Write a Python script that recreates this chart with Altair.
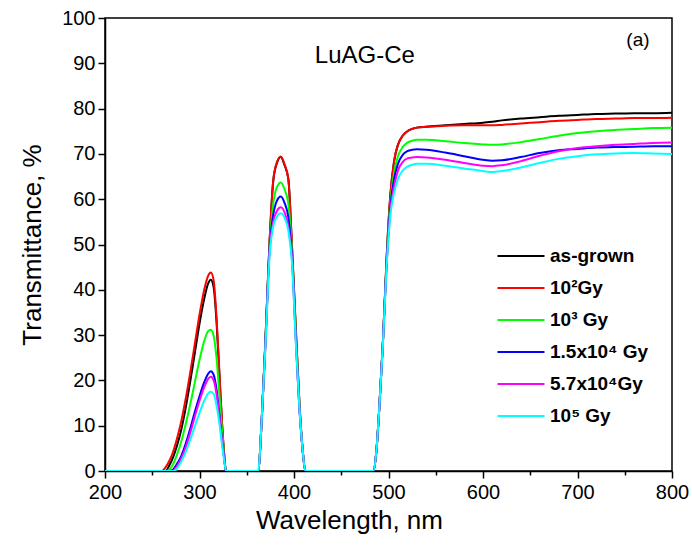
import altair as alt
import pandas as pd

# ---- data ----
wavelength = [200, 260, 264, 268, 272, 276, 280, 285, 290, 295, 300, 305, 309, 312, 315, 318, 321, 324, 326, 328,
              362, 366, 370, 374, 378, 382, 386, 390, 394, 398, 402, 406, 409, 412,
              484, 487, 490, 494, 498, 502, 506, 510, 515, 520, 525, 530,
              540, 560, 580, 600, 610, 620, 640, 660, 680, 700, 720, 740, 760, 780, 800]

as_grown = [0, 0, 0, 1.2, 3, 5.5, 8.5, 13.5, 19.5, 26, 32.5, 38, 41.3, 42.2, 40.5, 33, 21.5, 10, 4, 0,
            0, 12, 30, 50, 64, 68, 69.3, 67.5, 64.5, 49, 31, 14, 5, 0,
            0, 4, 13, 28, 47, 61, 68.5, 72, 74, 75, 75.5, 75.8,
            76, 76.3, 76.6, 76.9, 77.1, 77.4, 77.8, 78.1, 78.4, 78.6, 78.8, 78.9, 79, 79, 79.1]
gy_1e2 = [0, 0, 0.8, 2.2, 4.2, 7, 10.3, 15.5, 21.5, 28, 34.5, 40, 43, 43.8, 42, 34, 22, 10, 4, 0,
          0, 12, 30, 50, 64, 68.2, 69.4, 67.7, 64.5, 49, 31, 14, 5, 0,
          0, 4, 13, 28, 47, 61, 68.5, 72, 74, 75, 75.5, 75.8,
          76, 76.2, 76.3, 76.3, 76.3, 76.4, 76.7, 77, 77.3, 77.5, 77.7, 77.8, 77.9, 77.9, 78]
gy_1e3 = [0, 0, 0, 0.3, 1.5, 3.5, 6, 10, 14.5, 19.5, 24.5, 28.7, 30.8, 31.2, 29.8, 25, 17, 8.5, 3.5, 0,
          0, 12, 30, 49, 59, 62.7, 63.7, 62.2, 59, 48, 30, 13.5, 5, 0,
          0, 4, 13, 28, 46.5, 59.5, 66, 69.5, 71.5, 72.5, 72.9, 73.1,
          73.1, 72.8, 72.4, 72.1, 72, 72.1, 72.6, 73.3, 74, 74.6, 75, 75.3, 75.5, 75.7, 75.8]
gy_15e4 = [0, 0, 0, 0, 0.3, 1.5, 3, 5.8, 9.2, 13, 16.5, 19.6, 21.4, 22, 21.2, 18, 12.5, 6.5, 3, 0,
           0, 12, 29.5, 48.5, 56.5, 59.7, 60.6, 59.2, 56, 47, 29, 13, 5, 0,
           0, 4, 13, 28, 46, 58.5, 64.5, 67.8, 69.8, 70.6, 70.9, 71,
           70.9, 70.3, 69.5, 68.7, 68.5, 68.6, 69.3, 70.2, 70.8, 71.1, 71.4, 71.5, 71.6, 71.7, 71.7]
gy_57e4 = [0, 0, 0, 0, 0, 1, 2.5, 5, 8.3, 12, 15.5, 18.5, 20.3, 20.8, 20, 17, 12, 6.3, 3, 0,
           0, 12, 29, 48, 55, 57.4, 58.2, 57.1, 54, 46.5, 28.5, 13, 5, 0,
           0, 4, 13, 28, 45.5, 57.5, 63, 66.3, 68.2, 69, 69.2, 69.3,
           69.2, 68.7, 68, 67.4, 67.3, 67.5, 68.4, 69.6, 70.6, 71.3, 71.7, 72, 72.2, 72.4, 72.5]
gy_1e5 = [0, 0, 0, 0, 0, 0.5, 1.8, 4, 6.8, 9.8, 12.8, 15.5, 17.1, 17.5, 17, 14.5, 10.5, 5.5, 2.5, 0,
          0, 12, 28.5, 47, 54, 56.2, 56.9, 55.9, 53, 45.5, 28, 13, 5, 0,
          0, 4, 13, 27.5, 45, 56.5, 61.5, 64.5, 66.3, 67.2, 67.6, 67.8,
          67.8, 67.4, 66.8, 66.2, 66, 66.2, 67, 68, 68.9, 69.5, 69.9, 70.1, 70.2, 70.1, 70]

series_names = ["as-grown", "10\u00b2Gy", "10\u00b3 Gy", "1.5x10\u2074 Gy", "5.7x10\u2074Gy", "10\u2075 Gy"]
series_colors = ["#000000", "#ff0000", "#00ff00", "#0000ff", "#ff00ff", "#00ffff"]
series_values = [as_grown, gy_1e2, gy_1e3, gy_15e4, gy_57e4, gy_1e5]

x_ticks = list(range(200, 801, 50))
y_ticks = list(range(0, 101, 5))

label_text = ["LuAG-Ce"]
label_x = [475]
label_y = [91.6]
panel_text = ["(a)"]
panel_x = [764]
panel_y = [95.1]

rows = []
for k, (name, vals) in enumerate(zip(series_names, series_values)):
    for w, v in zip(wavelength, vals):
        rows.append({"wavelength": w, "T": v, "series": name, "k": k})
df = pd.DataFrame(rows)

FONT = "Liberation Sans"

x_axis = alt.Axis(
    values=x_ticks,
    labelExpr="datum.value % 100 === 0 ? datum.label : ''",
    tickSize={"condition": {"test": "datum.value % 100 === 0", "value": 7}, "value": 4},
    title="Wavelength, nm", grid=False,
    labelFontSize=20, titleFontSize=26, titleFontWeight="normal",
    labelPadding=4, titlePadding=5, labelFlush=False, labelOverlap=False,
    titleX=244,
)
y_axis = alt.Axis(
    values=y_ticks,
    labelExpr="datum.value % 10 === 0 ? datum.label : ''",
    tickSize={"condition": {"test": "datum.value % 10 === 0", "value": 7}, "value": 4},
    title="Transmittance, %", grid=False,
    labelFontSize=20, titleFontSize=26, titleFontWeight="normal",
    labelPadding=3, titlePadding=16, labelFlush=False, labelOverlap=False,
)

lines = alt.Chart(df).mark_line(strokeWidth=2, interpolate="monotone", clip=True).encode(
    x=alt.X("wavelength:Q", scale=alt.Scale(domain=[200, 800], nice=False, zero=False), axis=x_axis),
    y=alt.Y("T:Q", scale=alt.Scale(domain=[0, 100], nice=False), axis=y_axis),
    color=alt.Color(
        "series:N",
        scale=alt.Scale(domain=series_names, range=series_colors),
        sort=series_names,
        legend=alt.Legend(
            title=None, orient="none", legendX=405, legendY=227,
            symbolType="M-2.35,0H2.35", symbolSize=400, symbolStrokeWidth=2,
            labelFontSize=19, labelFontWeight="bold", labelFont=FONT, labelColor="black",
            rowPadding=11, labelOffset=18, padding=0, labelLimit=300,
        ),
    ),
    order=alt.Order("k:Q"),
)

lab = alt.Chart(pd.DataFrame({"x": label_x, "y": label_y, "t": label_text})).mark_text(
    fontSize=24, font=FONT, color="black"
).encode(x="x:Q", y="y:Q", text="t:N")

panel = alt.Chart(pd.DataFrame({"x": panel_x, "y": panel_y, "t": panel_text})).mark_text(
    fontSize=19, font=FONT, color="black"
).encode(x="x:Q", y="y:Q", text="t:N")

chart = alt.layer(lines, lab, panel).properties(
    width=567, height=453,
    autosize=alt.AutoSizeParams(type="none"),
    padding={"left": 105, "top": 18, "right": 20, "bottom": 75},
    background="white",
).configure_view(
    stroke="black", strokeWidth=1.5
).configure_axis(
    domainColor="black", domainWidth=1.5, tickColor="black", tickWidth=1.5,
    labelColor="black", titleColor="black", labelFont=FONT, titleFont=FONT,
)

chart.save("out.html", embed_options={"renderer": "svg", "actions": False})
